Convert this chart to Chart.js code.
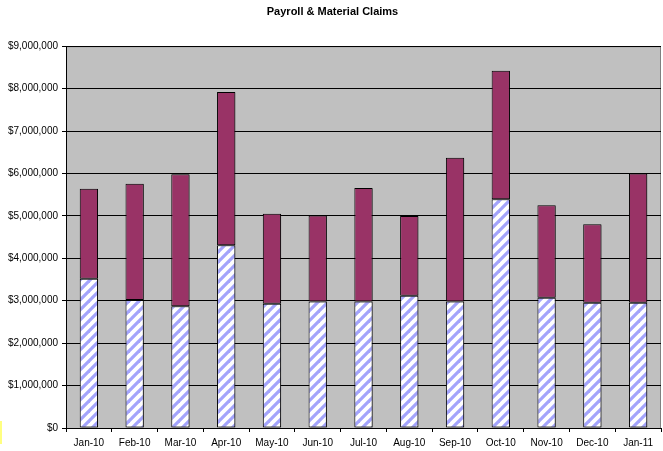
<!DOCTYPE html>
<html>
<head>
<meta charset="utf-8">
<script src="https://cdn.jsdelivr.net/npm/chart.js@4/dist/chart.umd.min.js"></script>
<style>
  body { margin: 0; background: #fff; }
  #wrap { position: relative; width: 663px; height: 451px; }
  #mark { position: absolute; left: 0; top: 421px; width: 2px; height: 23px; background: #ffff80; }
</style>
</head>
<body>
<div id="wrap">
  <canvas id="c" width="663" height="451"></canvas>
  <div id="mark"></div>
</div>
<script>
// Oylar va qiymatlar (rasmdan o'qilgan taxminlar)
const months = ['Jan-10', 'Feb-10', 'Mar-10', 'Apr-10', 'May-10', 'Jun-10', 'Jul-10',
                'Aug-10', 'Sep-10', 'Oct-10', 'Nov-10', 'Dec-10', 'Jan-11'];
const payroll  = [3520000, 3020000, 2870000, 4310000, 2930000, 2980000, 2980000,
                  3120000, 2980000, 5390000, 3070000, 2950000, 2950000];
const material = [2120000, 2740000, 3110000, 3610000, 2120000, 2030000, 2680000,
                  1880000, 3390000, 3030000, 2180000, 1850000, 3050000];
const yTicks = [0, 1000000, 2000000, 3000000, 4000000, 5000000, 6000000, 7000000, 8000000, 9000000];

// Diagonal shtrix naqsh (ko'k / oq)
function hatch() {
  const n = 10;
  const t = document.createElement('canvas');
  t.width = n; t.height = n;
  const g = t.getContext('2d');
  g.fillStyle = '#fff'; g.fillRect(0, 0, n, n);
  g.strokeStyle = '#a4a4fb'; g.lineWidth = 3.2;
  [[0, n, n, 0], [-n / 2, n / 2, n / 2, -n / 2], [n / 2, n * 1.5, n * 1.5, n / 2]].forEach(([a, b, c, d]) => {
    g.beginPath(); g.moveTo(a, b); g.lineTo(c, d); g.stroke();
  });
  return document.getElementById('c').getContext('2d').createPattern(t, 'repeat');
}

const money = v => '$' + Number(v).toLocaleString('en-US');

// Chizma maydoni foni va ramkasi
const plotBg = {
  id: 'plotBg',
  beforeDraw(chart) {
    const { ctx, chartArea: a } = chart;
    ctx.save();
    ctx.fillStyle = '#c0c0c0';
    ctx.fillRect(a.left, a.top, a.right - a.left, a.bottom - a.top);
    ctx.strokeStyle = '#808080'; ctx.lineWidth = 1;
    ctx.beginPath();
    ctx.moveTo(a.left, a.top + 0.5); ctx.lineTo(a.right - 0.5, a.top + 0.5); ctx.lineTo(a.right - 0.5, a.bottom);
    ctx.stroke();
    ctx.restore();
  },
  beforeDatasetsDraw(chart) {
    const ctx = chart.ctx;
    ctx.save();
    ctx.shadowColor = 'rgba(0,0,0,0.25)';
    ctx.shadowOffsetX = 2; ctx.shadowOffsetY = 1; ctx.shadowBlur = 0;
  },
  afterDatasetsDraw(chart) { chart.ctx.restore(); }
};

const font = { family: 'Arial, "Liberation Sans", sans-serif', size: 10 };

new Chart(document.getElementById('c'), {
  type: 'bar',
  data: {
    labels: months,
    datasets: [
      { label: 'Payroll', data: payroll, backgroundColor: hatch(), borderColor: '#000', borderWidth: 1, borderSkipped: false },
      { label: 'Material', data: material, backgroundColor: '#993366', borderColor: '#000', borderWidth: 1, borderSkipped: false }
    ]
  },
  options: {
    responsive: false, animation: false,
    layout: { padding: { left: 4, right: 2, top: 0, bottom: 0 } },
    datasets: { bar: { categoryPercentage: 1, barPercentage: 0.4 } },
    plugins: {
      legend: { display: false },
      tooltip: { enabled: false },
      title: {
        display: true, text: 'Payroll & Material Claims', color: '#000',
        font: { family: font.family, size: 11, weight: 'bold' },
        padding: { top: 5, bottom: 28 }
      }
    },
    scales: {
      x: {
        stacked: true,
        afterFit: s => { s.height = 23; },
        grid: { offset: true, drawOnChartArea: false, color: '#000', tickLength: 4 },
        border: { color: '#000' },
        ticks: { color: '#000', font, padding: 5, maxRotation: 0, autoSkip: false }
      },
      y: {
        stacked: true, min: 0, max: 9000000,
        afterFit: s => { s.width = 62; },
        afterBuildTicks: s => { s.ticks = yTicks.map(v => ({ value: v })); },
        grid: { color: '#000', tickLength: 4 },
        border: { color: '#000' },
        ticks: { color: '#000', font, padding: 4, callback: v => money(v) }
      }
    }
  },
  plugins: [plotBg]
});
</script>
</body>
</html>
